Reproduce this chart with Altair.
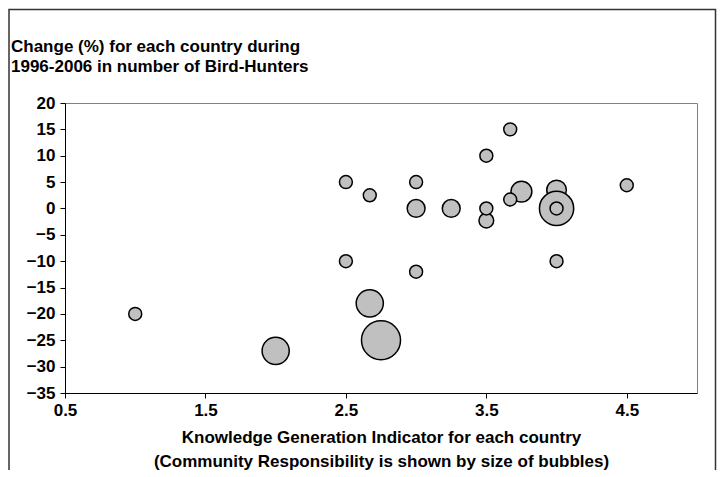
import altair as alt
import pandas as pd

# Knowledge Generation Indicator (x), change in bird-hunters % (y), community responsibility (bubble size)
kgi = [1.0, 2.0, 2.5, 2.5, 2.67, 2.67, 2.75, 3.0, 3.0, 3.0, 3.25, 3.5, 3.5, 3.5, 3.67, 3.75, 3.67, 4.0, 4.0, 4.0, 4.0, 4.5]
change = [-20, -27, 5, -10, 2.5, -18, -25, 5, 0, -12, 0, 10, -2.3, 0, 15, 3.2, 1.7, 3.5, 0, 0, -10, 4.4]
responsibility = [1, 4.4, 1, 1, 1, 4.4, 9.1, 1, 1.9, 1, 1.9, 1, 1.3, 1, 1, 2.6, 1, 2.3, 7.0, 1, 1, 1]

x_ticks = [0.5, 1.5, 2.5, 3.5, 4.5]
y_ticks = [-35, -30, -25, -20, -15, -10, -5, 0, 5, 10, 15, 20]

title_lines = ["Change (%) for each country during", "1996-2006 in number of Bird-Hunters"]
x_title = ["Knowledge Generation Indicator for each country",
           "(Community Responsibility is shown by size of bubbles)"]

df = pd.DataFrame({"kgi": kgi, "change": change, "resp": responsibility,
                   "idx": list(range(len(kgi)))})

FONT = "Liberation Sans"

bubbles = alt.Chart(df).mark_point(
    shape="circle", filled=True, fill="#C0C0C0", stroke="black",
    strokeWidth=1.5, opacity=1, fillOpacity=1
).encode(
    x=alt.X("kgi:Q", scale=alt.Scale(domain=[0.5, 5.0], nice=False, zero=False),
            axis=alt.Axis(values=x_ticks, format=".1f", title=x_title)),
    y=alt.Y("change:Q", scale=alt.Scale(domain=[-35, 20], nice=False, zero=False),
            axis=alt.Axis(values=y_ticks, format="d", title=None)),
    size=alt.Size("resp:Q", scale=alt.Scale(domain=[0, 9], range=[0, 1507]), legend=None),
    order=alt.Order("idx:Q"),
)

title_text = alt.Chart(pd.DataFrame({"a": [0]})).mark_text(
    text=title_lines, align="left", baseline="middle", lineHeight=20,
    font=FONT, fontSize=17, fontWeight="bold", color="black"
).encode(x=alt.value(-54), y=alt.value(-56))

frame = alt.Chart(pd.DataFrame({"a": [0]})).mark_rect(
    fill=None, fillOpacity=0, stroke="#333333", strokeWidth=1.5
).encode(x=alt.value(-56), x2=alt.value(650.5), y=alt.value(-93.5), y2=alt.value(500))

chart = alt.layer(frame, bubbles, title_text).properties(
    width=632, height=290,
    autosize=alt.AutoSizeParams(type="none"),
    padding={"left": 57, "top": 95, "right": 20, "bottom": 77},
).configure_view(
    stroke="#808080", strokeWidth=1
).configure_axis(
    grid=False, domainColor="black", domainWidth=1, tickColor="black", tickSize=5,
    labelFont=FONT, labelFontSize=17, labelFontWeight="bold", labelColor="black",
    titleFont=FONT, titleFontSize=17, titleFontWeight="bold", titleColor="black",
    labelFlush=False, labelOverlap=False,
).configure_axisX(
    labelPadding=4, titlePadding=11, titleLineHeight=24
).configure_axisY(
    labelPadding=5
)

chart.save("out.html", embed_options={"renderer": "svg", "actions": False})
